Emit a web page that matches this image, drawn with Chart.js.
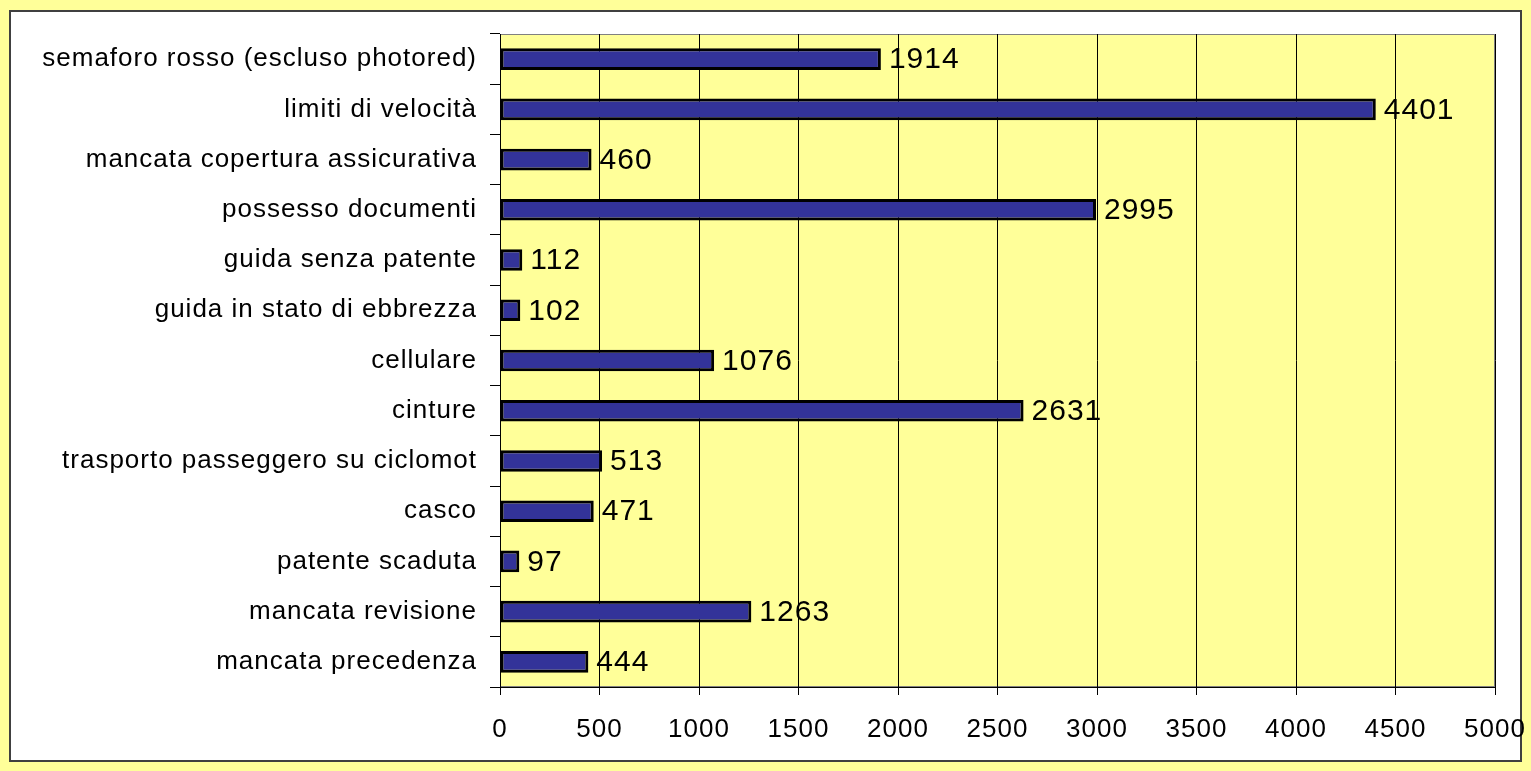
<!DOCTYPE html>
<html>
<head>
<meta charset="utf-8">
<script src="https://cdn.jsdelivr.net/npm/chart.js@4/dist/chart.umd.min.js"></script>
<style>
  html, body { margin: 0; padding: 0; background: #ffff99; width: 1531px; height: 771px; overflow: hidden; }
  canvas { display: block; }
</style>
</head>
<body>
<canvas id="chart" width="1531" height="771"></canvas>
<script>
// categorie e valori (dall'alto verso il basso)
var categories = [
    'semaforo rosso (escluso photored)',
    'limiti di velocità',
    'mancata copertura assicurativa',
    'possesso documenti',
    'guida senza patente',
    'guida in stato di ebbrezza',
    'cellulare',
    'cinture',
    'trasporto passeggero su ciclomot',
    'casco',
    'patente scaduta',
    'mancata revisione',
    'mancata precedenza'
];
var values = [1914, 4401, 460, 2995, 112, 102, 1076, 2631, 513, 471, 97, 1263, 444];
var xMin = 0;
var xMax = 5000;
var xStep = 500;

var fontFamily = 'Arial, "Liberation Sans", sans-serif';

// sfondo giallo, riquadro bianco bordato e area del grafico gialla
var background = {
    id: 'background',
    beforeDraw: function (chart) {
        var c = chart.ctx;
        var a = chart.chartArea;
        c.save();
        c.fillStyle = '#ffff99';
        c.fillRect(0, 0, chart.width, chart.height);
        c.fillStyle = '#ffffff';
        c.fillRect(10, 11, 1511, 750);
        c.strokeStyle = '#404040';
        c.lineWidth = 2;
        c.strokeRect(10, 11, 1511, 750);
        c.fillStyle = '#ffff99';
        c.fillRect(a.left, a.top, a.right - a.left, a.bottom - a.top);
        c.strokeStyle = '#808080';
        c.lineWidth = 1;
        c.strokeRect(a.left + 0.5, a.top + 0.5, a.right - a.left - 1, a.bottom - a.top - 1);
        c.restore();
        c.letterSpacing = '1px';
    }
};

// etichette numeriche a destra delle barre
var valueLabels = {
    id: 'valueLabels',
    afterDatasetsDraw: function (chart) {
        var c = chart.ctx;
        var meta = chart.getDatasetMeta(0);
        c.save();
        c.font = '30px ' + fontFamily;
        c.fillStyle = '#000000';
        c.textAlign = 'left';
        c.textBaseline = 'middle';
        meta.data.forEach(function (bar, i) {
            c.fillText(String(values[i]), bar.x + 8, bar.y + 1);
        });
        c.restore();
    }
};

var ctx = document.getElementById('chart').getContext('2d');
new Chart(ctx, {
    type: 'bar',
    data: {
        labels: categories,
        datasets: [{
            data: values,
            backgroundColor: '#333399',
            borderColor: '#000000',
            borderWidth: 3,
            borderSkipped: false,
            categoryPercentage: 0.43,
            barPercentage: 1.0
        }]
    },
    options: {
        indexAxis: 'y',
        responsive: false,
        animation: false,
        maintainAspectRatio: false,
        layout: { padding: { top: 34, right: 36, bottom: 0, left: 0 } },
        scales: {
            x: {
                min: xMin,
                max: xMax,
                ticks: {
                    stepSize: xStep,
                    color: '#000000',
                    padding: 19,
                    font: { family: fontFamily, size: 26 },
                    callback: function (v) { return String(v); }
                },
                grid: {
                    color: '#000000',
                    lineWidth: 1,
                    tickLength: 8,
                    drawTicks: true
                },
                border: { color: '#000000', width: 1 },
                afterFit: function (scale) {
                    scale.height = 84;
                    scale.paddingLeft = 0;
                    scale.paddingRight = 0;
                }
            },
            y: {
                offset: true,
                ticks: {
                    color: '#000000',
                    padding: 13,
                    font: { family: fontFamily, size: 26 }
                },
                grid: {
                    offset: true,
                    drawOnChartArea: false,
                    color: '#000000',
                    tickLength: 10
                },
                border: { color: '#000000', width: 1 },
                afterFit: function (scale) { scale.width = 500; }
            }
        },
        plugins: {
            legend: { display: false },
            tooltip: { enabled: false }
        }
    },
    plugins: [background, valueLabels]
});
</script>
</body>
</html>
